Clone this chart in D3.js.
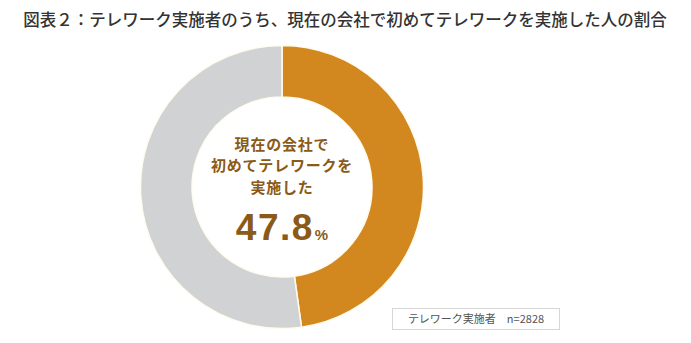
<!DOCTYPE html>
<html>
<head>
<meta charset="utf-8">
<script src="https://cdn.jsdelivr.net/npm/d3@7"></script>
<style>
  html, body { margin: 0; padding: 0; background: #fff; }
  svg { display: block; font-family: "Noto Sans CJK JP", "Noto Sans", sans-serif; }
</style>
</head>
<body>
<svg id="chart" width="691" height="343"></svg>
<script>
// Share of teleworkers who teleworked for the first time at their current company
const categories = ["現在の会社で初めてテレワークを実施した", "それ以外"];
const values = [47.8, 52.2];
const colors = ["#d3881f", "#d1d2d4"];
const titleText = "図表２：テレワーク実施者のうち、現在の会社で初めてテレワークを実施した人の割合";
const centerLines = ["現在の会社で", "初めてテレワークを", "実施した"];
const legendText = "テレワーク実施者　n=2828";

const svg = d3.select("#chart");
const cx = 282, cy = 187, outerR = 141.5, innerR = 90;

svg.append("text")
  .attr("x", 345).attr("y", 26)
  .attr("text-anchor", "middle")
  .attr("font-size", 16.5)
  .attr("font-weight", 500)
  .attr("fill", "#333")
  .text(titleText);

const pie = d3.pie().sort(null).value(d => d);
const arc = d3.arc().innerRadius(innerR).outerRadius(outerR);

const g = svg.append("g").attr("transform", `translate(${cx},${cy})`);
g.selectAll("path")
  .data(pie(values))
  .join("path")
  .attr("d", arc)
  .attr("fill", (d, i) => colors[i])
  .attr("stroke", "#fffbee")
  .attr("stroke-width", 1.5);

// Centre label: three lines in one text block, then the percentage
const label = g.append("g").attr("fill", "#8a5a16").attr("text-anchor", "middle");
label.append("text")
  .attr("font-size", 15)
  .attr("font-weight", 700)
  .attr("letter-spacing", 0.8)
  .selectAll("tspan")
  .data(centerLines)
  .join("tspan")
  .attr("x", 0)
  .attr("y", (d, i) => -37.5 + i * 21.8)
  .text(d => d);

const pct = label.append("text")
  .attr("x", 0).attr("y", 53)
  .attr("font-family", "'Liberation Sans', Arial, sans-serif")
  .attr("font-weight", 700);
pct.append("tspan").attr("font-size", 37).attr("letter-spacing", 1.5).text(values[0].toFixed(1));
pct.append("tspan").attr("font-size", 15).attr("dx", 1).text("%");

// Sample-size note box
svg.append("rect")
  .attr("x", 392.5).attr("y", 308.5)
  .attr("width", 167).attr("height", 21)
  .attr("fill", "#fff")
  .attr("stroke", "#d6d6d6");
svg.append("text")
  .attr("x", 476).attr("y", 323)
  .attr("text-anchor", "middle")
  .attr("font-size", 11)
  .attr("fill", "#555")
  .text(legendText);
</script>
</body>
</html>
